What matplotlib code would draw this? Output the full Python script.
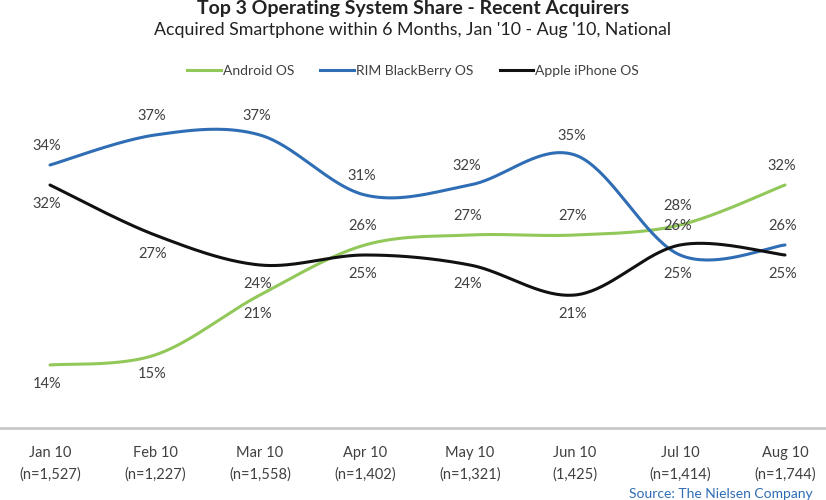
import numpy as np
import matplotlib
matplotlib.use("Agg")
import matplotlib.pyplot as plt
from matplotlib.lines import Line2D

# ---- data ----
months = ["Jan 10", "Feb 10", "Mar 10", "Apr 10", "May 10", "Jun 10", "Jul 10", "Aug 10"]
sample_sizes = ["(n=1,527)", "(n=1,227)", "(n=1,558)", "(n=1,402)", "(n=1,321)", "(1,425)", "(n=1,414)", "(n=1,744)"]
android = [14, 15, 21, 26, 27, 27, 28, 32]
rim = [34, 37, 37, 31, 32, 35, 25, 26]
apple = [32, 27, 24, 25, 24, 21, 26, 25]
series_names = ["Android OS", "RIM BlackBerry OS", "Apple iPhone OS"]

# ---- style ----
colors = ["#92C85A", "#2F6DB5", "#111111"]
label_side = [
    [-1, -1, -1, 1, 1, 1, 1, 1],   # android
    [1, 1, 1, 1, 1, 1, -1, 1],     # rim
    [-1, -1, -1, -1, -1, -1, 1, -1],  # apple
]
plt.rcParams['font.family'] = ['Lato', 'DejaVu Sans']
txt_color = "#404040"


def smooth(xs, ys, n=40):
    """Excel-like smoothed line via cubic Bezier with Catmull-Rom control points."""
    xs = np.asarray(xs, float)
    ys = np.asarray(ys, float)
    P = np.column_stack([xs, ys])
    out = []
    for i in range(len(P) - 1):
        p0 = P[i - 1] if i > 0 else P[i]
        p1 = P[i]
        p2 = P[i + 1]
        p3 = P[i + 2] if i + 2 < len(P) else P[i + 1]
        c1 = p1 + (p2 - p0) / 6.0
        c2 = p2 - (p3 - p1) / 6.0
        t = np.linspace(0, 1, n)[:, None]
        seg = ((1 - t) ** 3) * p1 + 3 * ((1 - t) ** 2) * t * c1 + 3 * (1 - t) * t ** 2 * c2 + t ** 3 * p2
        out.append(seg if i == 0 else seg[1:])
    out = np.vstack(out)
    return out[:, 0], out[:, 1]


fig = plt.figure(figsize=(8.26, 5.0), dpi=100)
ax = fig.add_axes([0.0, 0.144, 1.0, 0.656])
x = np.arange(len(months))
ax.set_xlim(-50 / 105, (826 - 50) / 105)
ax.set_ylim(7.7, 40.5)

for vals, col, sides, name in zip([android, rim, apple], colors, label_side, series_names):
    sx, sy = smooth(x, vals)
    ax.plot(sx, sy, color=col, lw=2.2, solid_capstyle='round', label=name)
    for xi, v, s in zip(x, vals, sides):
        ax.annotate(f"{v}%", (xi, v), xytext=(-2, 14 * s), textcoords='offset points',
                    ha='center', va='center', fontsize=10.5, color=txt_color)

for sp in ["top", "right", "left"]:
    ax.spines[sp].set_visible(False)
ax.spines["bottom"].set_color("#C8C8C8")
ax.spines["bottom"].set_linewidth(2)
ax.set_yticks([])
ax.set_xticks(x)
ax.set_xticklabels([f"{m}\n{n}" for m, n in zip(months, sample_sizes)], fontsize=10.5,
                   color=txt_color, linespacing=1.65)
ax.tick_params(axis='x', length=0, pad=13)

fig.text(0.5, 1.0, "Top 3 Operating System Share - Recent Acquirers", ha='center', va='top',
         fontsize=14, fontweight='bold', color="#222222")
fig.text(0.5, 0.94, "Acquired Smartphone within 6 Months, Jan '10 - Aug '10, National", ha='center',
         va='center', fontsize=12.8, color="#222222")

handles = [Line2D([], [], color=c, lw=2.2) for c in colors]
fig.legend(handles, series_names, loc='center', bbox_to_anchor=(0.5, 0.858), ncol=3, frameon=False,
           fontsize=10, handlelength=2.4, handletextpad=0.15, columnspacing=1.9,
           labelcolor=txt_color)

fig.text(0.873, 0.0, "Source: The Nielsen Company", ha='center', va='bottom', fontsize=10,
         color="#2F6DB5")

fig.savefig("out.png", dpi=100)
